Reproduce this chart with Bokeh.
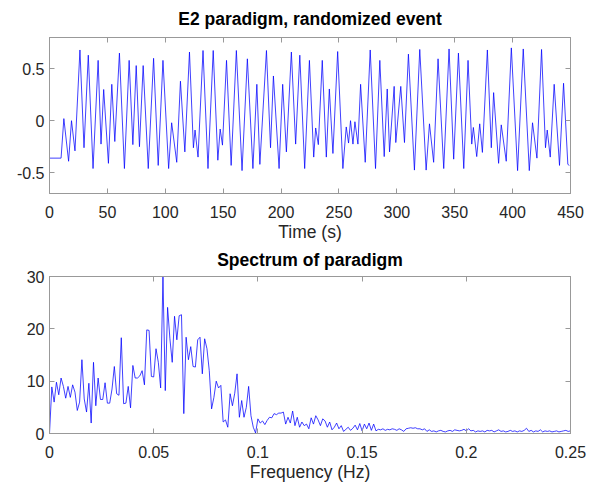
import numpy as np
from bokeh.plotting import figure
from bokeh.layouts import column
from bokeh.models import (Range1d, LinearAxis, FixedTicker, CustomJSTickFormatter,
                          CustomLabelingPolicy)
from bokeh.embed import file_html
from bokeh.resources import INLINE

# --- paradigm time course: turning points of the regressor (s, a.u.) ---
time_s = [0, 10, 12.4, 16.5, 19, 22, 26.3, 29.8, 33.5, 37.6, 42, 44.5, 46.8, 50.9,
          53.8, 56.4, 60.4, 64.7, 68.8, 72, 74.9, 77.7, 80.9, 85.3, 89.9, 93.9, 98,
          102.9, 105.5, 109.9, 113.1, 116.9, 120.9, 124.3, 125.7, 128.3, 132.6, 136.9,
          141.4, 145.4, 147.4, 149.4, 152.9, 156.9, 161.4, 166.3, 170.9, 175.7, 179.1,
          181.7, 187.4, 190.9, 193.4, 198.3, 201.4, 204.6, 208.9, 212.6, 216.2, 220.4,
          224.5, 228.2, 229.9, 232.2, 235.6, 239.1, 241.7, 244.8, 248.9, 253.4, 256.3,
          258.3, 260, 262.1, 263.8, 266.4, 268.7, 272.7, 277, 281.6, 285.3, 289.1,
          291.7, 293.7, 297.7, 299.1, 303.4, 306.6, 310, 315.2, 319.8, 325.3, 328.2,
          331.8, 335.6, 340.5, 345.1, 349.1, 353.2, 357.8, 361.5, 364.7, 366.1, 369,
          371.6, 373.9, 378.2, 381.6, 383.6, 387.9, 390.2, 394.5, 398.9, 404.3, 409.2,
          414.4, 417.2, 421, 425, 428.4, 429.9, 432.5, 435.9, 440.5, 444, 447.7, 449]
paradigm = [-0.36, -0.36, 0.02, -0.39, 0.0, -0.29, 0.68, -0.26, 0.63, -0.46, 0.58, -0.225,
            0.30, -0.41, 0.35, -0.20, 0.65, -0.46, 0.58, -0.23, 0.53, -0.25, 0.53, -0.46,
            0.60, -0.43, 0.58, -0.46, -0.02, -0.40, 0.38, -0.30, 0.66, -0.26, -0.09, -0.35,
            0.675, -0.46, 0.675, -0.38, -0.08, -0.235, 0.58, -0.43, 0.675, -0.48, 0.595,
            -0.46, 0.35, -0.42, 0.675, -0.26, 0.43, -0.46, 0.35, -0.30, 0.66, -0.225, 0.63,
            -0.46, 0.58, -0.35, -0.07, -0.23, 0.58, -0.35, 0.305, -0.315, 0.665, -0.46,
            -0.06, -0.215, 0.0, -0.225, -0.01, -0.225, 0.35, -0.40, 0.68, -0.46, 0.58,
            -0.345, 0.305, -0.30, 0.33, -0.21, 0.33, -0.21, 0.64, -0.475, 0.685, -0.475,
            -0.03, -0.40, 0.595, -0.46, 0.69, -0.37, 0.65, -0.46, 0.58, -0.225, -0.065,
            -0.345, -0.03, -0.305, 0.68, -0.26, 0.27, -0.41, -0.04, -0.39, 0.70, -0.48,
            0.69, -0.48, -0.02, -0.36, 0.685, -0.26, -0.09, -0.35, 0.35, -0.43, 0.36,
            -0.42, -0.43]

# --- amplitude spectrum of the paradigm, 0 .. 0.25 Hz ---
spectrum = [0, 8.9, 6.0, 9.8, 7.4, 10.6, 9.0, 6.75, 9.0, 6.9,
            9.3, 7.9, 4.4, 6.0, 14.1, 6.6, 4.1, 9.6, 2.0, 13.6,
            5.3, 10.6, 6.5, 6.5, 9.7, 5.8, 5.8, 8.5, 12.8, 7.6,
            7.3, 18.3, 5.7, 5.8, 9.0, 4.9, 13.0, 10.6, 10.6, 11.0,
            12.0, 9.3, 19.8, 19.7, 10.9, 10.8, 16.2, 13.6, 8.7, 29.9,
            8.2, 24.1, 18.1, 13.6, 22.4, 17.9, 22.5, 22.7, 3.8, 18.4,
            14.1, 16.6, 12.8, 12.7, 17.9, 18.4, 11.4, 18.1, 16.2, 12.0,
            4.7, 6.9, 10.0, 8.7, 9.2, 2.2, 2.6, 1.2, 7.6, 5.3,
            7.7, 11.4, 3.1, 6.3, 3.1, 5.0, 9.0, 3.4, 1.2, 0.1,
            2.8, 2.0, 2.4, 1.7, 2.5, 3.1, 3.0, 3.8, 3.6, 3.9,
            3.9, 4.1, 1.8, 3.1, 2.0, 4.3, 1.5, 3.1, 1.2, 2.2,
            1.5, 1.8, 0.9, 3.0, 1.8, 3.4, 2.6, 1.5, 2.8, 2.4,
            1.2, 2.2, 0.7, 1.2, 2.0, 0.9, 1.5, 0.4, 0.8, 1.2,
            0.6, 1.0, 1.6, 0.7, 1.9, 0.5, 1.8, 0.9, 2.0, 0.6,
            1.8, 0.5, 0.8, 0.7, 0.9, 0.6, 0.8, 0.7, 0.9, 0.8,
            0.6, 0.9, 0.7, 0.4, 0.9, 1.0, 1.1, 1.0, 1.1, 0.9,
            0.9, 0.7, 0.9, 0.4, 0.7, 0.4, 0.5, 0.3, 0.5, 0.6,
            0.4, 0.3, 0.5, 0.6, 0.4, 0.7, 0.6, 0.5, 0.6, 0.8,
            0.5, 0.9, 0.5, 0.6, 0.3, 0.5, 0.4, 0.5, 0.3, 0.6,
            0.5, 0.6, 0.3, 0.5, 0.7, 0.4, 0.5, 0.3, 0.4, 0.6,
            0.4, 0.5, 0.3, 0.5, 0.4, 0.6, 1.0, 0.4, 0.6, 0.3,
            0.5, 0.4, 0.7, 0.3, 0.5, 0.4, 0.5, 0.3, 0.4, 0.5,
            0.3, 0.4, 0.5, 0.6, 0.4, 0.5]
freq_hz = np.linspace(0, 0.25, len(spectrum))

time_ticks = [0, 50, 100, 150, 200, 250, 300, 350, 400, 450]
paradigm_ticks = [-0.5, 0, 0.5]
freq_ticks = [0, 0.05, 0.1, 0.15, 0.2, 0.25]
spectrum_ticks = [0, 10, 20, 30]

FONT = "Liberation Sans"
AXIS_COLOR = "#999999"
TEXT_COLOR = "#262626"
LINE_COLOR = "#0000ff"

fmt = CustomJSTickFormatter(code="return String(Math.round(tick * 1000) / 1000);")
# mirrored box edges carry ticks only: drop every label there
no_labels = CustomLabelingPolicy(code="""
    const all = [...indices]
    for (const i of all) indices.unset(i)
    return indices
""")


def style_axis(ax, ticks, show_labels):
    ax.ticker = FixedTicker(ticks=ticks)
    ax.formatter = fmt
    ax.axis_line_color = AXIS_COLOR
    ax.major_tick_line_color = AXIS_COLOR
    ax.major_tick_in = 5
    ax.major_tick_out = 0
    ax.minor_tick_line_color = None
    ax.major_label_text_font = FONT
    ax.major_label_text_color = TEXT_COLOR
    ax.axis_label_text_font = FONT
    ax.axis_label_text_color = TEXT_COLOR
    ax.axis_label_text_font_style = "normal"
    ax.axis_label_text_font_size = "17.5px"
    if show_labels:
        ax.major_label_text_font_size = "16px"
    else:
        ax.major_label_text_font_size = "1px"
        ax.major_label_standoff = 0
        ax.major_label_policy = no_labels


def make_panel(title, height, xr, yr, xticks, yticks, xlabel, top, bottom,
               title_standoff, label_standoff, name_standoff):
    p = figure(width=589, height=height, output_backend="svg", toolbar_location=None,
               x_range=xr, y_range=yr, min_border_left=49, min_border_right=19,
               min_border_top=top, min_border_bottom=bottom)
    p.background_fill_color = "white"
    p.border_fill_color = "white"
    p.outline_line_color = AXIS_COLOR
    p.grid.visible = False
    p.title.text = title
    p.title.align = "center"
    p.title.text_font = FONT
    p.title.text_font_size = "17.5px"
    p.title.text_font_style = "bold"
    p.title.text_color = "black"
    p.title.standoff = title_standoff

    style_axis(p.xaxis[0], xticks, True)
    style_axis(p.yaxis[0], yticks, True)
    p.xaxis[0].axis_label = xlabel
    p.xaxis[0].major_label_standoff = label_standoff
    p.xaxis[0].axis_label_standoff = name_standoff
    p.yaxis[0].major_label_standoff = 5

    top_ax = LinearAxis()
    style_axis(top_ax, xticks, False)
    p.add_layout(top_ax, "above")
    right_ax = LinearAxis()
    style_axis(right_ax, yticks, False)
    p.add_layout(right_ax, "right")
    return p


p1 = make_panel("E2 paradigm, randomized event", 244, Range1d(0, 450), Range1d(-0.7, 0.8),
                time_ticks, paradigm_ticks, "Time (s)", 37, 51, 10, 12, 1)
p1.line(time_s, paradigm, color=LINE_COLOR, line_width=0.75)

p2 = make_panel("Spectrum of paradigm", 240, Range1d(0, 0.25), Range1d(0, 30),
                freq_ticks, spectrum_ticks, "Frequency (Hz)", 32, 51, 5, 12, 1)
p2.line(freq_hz, spectrum, color=LINE_COLOR, line_width=0.75)

layout = column(p1, p2, spacing=0)
open("out.html", "w").write(file_html(layout, INLINE))
